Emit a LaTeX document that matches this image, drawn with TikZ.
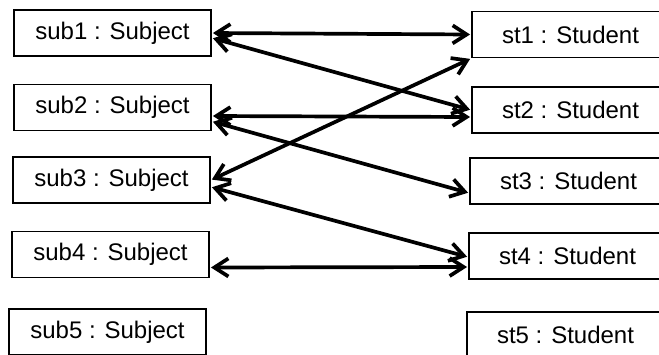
\documentclass[tikz,border=0pt]{standalone}
\usepackage{fontspec}
\setmainfont{Liberation Sans}
\usetikzlibrary{arrows.meta}
\begin{document}
\begin{tikzpicture}[x=1pt,y=-1pt,
  obj/.style={draw, line width=1.9pt, minimum width=197pt, minimum height=46pt, inner sep=0pt, font=\fontsize{24}{26}\selectfont},
  link/.style={line width=3.7pt, {Straight Barb[length=14pt,width=18pt,line width=3.7pt]}-{Straight Barb[length=14pt,width=18pt,line width=3.7pt]}, shorten <=1pt, shorten >=1pt}]
\useasboundingbox (0,0) rectangle (659,354);
\clip (0,0) rectangle (659,354);
\node[obj] (sub1) at (112.5,33) {sub1 : Subject};
\node[obj] (sub2) at (112.5,107.5) {sub2 : Subject};
\node[obj] (sub3) at (111.5,180) {sub3 : Subject};
\node[obj] (sub4) at (110.5,254.5) {sub4 : Subject};
\node[obj] (sub5) at (107.5,332) {sub5 : Subject};
\node[obj] (st1) at (570.5,34.5) {st1 : Student};
\node[obj] (st2) at (570.5,110) {st2 : Student};
\node[obj] (st3) at (568.5,181) {st3 : Student};
\node[obj] (st4) at (567.5,256) {st4 : Student};
\node[obj] (st5) at (565.5,335) {st5 : Student};
\draw[link] (sub1.east) -- (st1.west);
\draw[link] ([yshift=-5pt]sub1.east) -- (st2.west);
\draw[link] ([yshift=-8.5pt]sub2.east) -- ([yshift=-7pt]st2.west);
\draw[link] (sub3.east) -- (st1.south west);
\draw[link] ([yshift=-14pt]sub2.east) -- ([yshift=-12pt]st3.west);
\draw[link] ([yshift=-7pt]sub3.east) -- ([yshift=-1pt]st4.west);
\draw[link] ([yshift=-13pt]sub4.east) -- ([yshift=-11pt]st4.west);
\end{tikzpicture}
\end{document}
